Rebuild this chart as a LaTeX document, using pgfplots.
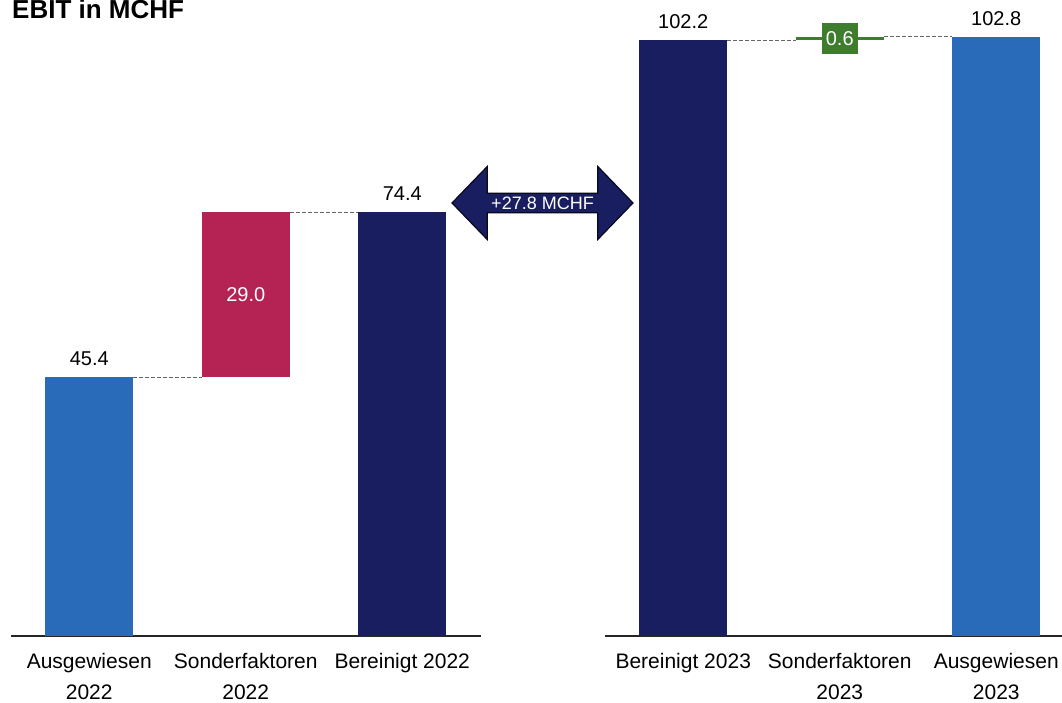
\documentclass[border=0pt]{standalone}
\usepackage{pgfplots}
\pgfplotsset{compat=1.18}
\usepackage{fontspec}
\setmainfont{Liberation Sans}
\usetikzlibrary{shapes.arrows}
\definecolor{navy}{HTML}{181E60}
\definecolor{lblue}{HTML}{2A6BB9}
\definecolor{crim}{HTML}{B52254}
\definecolor{sgreen}{HTML}{3E7C2E}
\pgfplotsset{
  wf/.style={
    ybar stacked, bar width=88pt,
    scale only axis, width=469.5pt, height=616pt,
    xmin=-0.5, xmax=2.5, ymin=0,
    enlargelimits=false, clip=false,
    axis x line*=bottom, axis y line=none,
    axis line style={line width=1.5pt, black!85},
    xtick={0,1,2}, major tick length=0pt, ytick=\empty,
    xticklabel style={font=\fontsize{21}{31}\selectfont, align=center,
      anchor=north, inner sep=0pt, yshift=-17pt},
    every axis plot/.append style={draw=none},
  },
}
\tikzset{
  vlab/.style={anchor=south, inner sep=0pt, yshift=11pt, font=\fontsize{20}{24}\selectfont},
  conn/.style={black!60, line width=1pt, dash pattern=on 4pt off 2pt},
}
\begin{document}
\begin{tikzpicture}
\useasboundingbox (0pt,0pt) rectangle (1062pt,703pt);

% left waterfall 2022
\begin{axis}[wf, at={(11pt,67pt)}, anchor=south west, ymax=108.1,
    xticklabels={{Ausgewiesen\\2022},{Sonderfaktoren\\2022},{Bereinigt 2022}}]
\addplot[fill=none] coordinates {(0,0) (1,45.4) (2,0)};
\addplot[fill=lblue] coordinates {(0,45.4) (1,0) (2,0)};
\addplot[fill=crim] coordinates {(0,0) (1,29.0) (2,0)};
\addplot[fill=navy] coordinates {(0,0) (1,0) (2,74.4)};
\coordinate (La1) at (axis cs:0.281,45.4);
\coordinate (La2) at (axis cs:0.719,45.4);
\coordinate (Lb1) at (axis cs:1.281,74.4);
\coordinate (Lb2) at (axis cs:1.719,74.4);
\coordinate (Lv0) at (axis cs:0,45.4);
\coordinate (Lv1) at (axis cs:1,59.9);
\coordinate (Lv2) at (axis cs:2,74.4);
\end{axis}
\draw[conn] (La1) -- (La2);
\draw[conn] (Lb1) -- (Lb2);
\node[vlab] at (Lv0) {45.4};
\node[vlab] at (Lv2) {74.4};
\node[text=white, font=\fontsize{20}{24}\selectfont] at (Lv1) {29.0};

% right waterfall 2023
\begin{axis}[wf, at={(605pt,67pt)}, anchor=south west, ymax=105.66,
    xticklabels={{Bereinigt 2023},{Sonderfaktoren\\2023},{Ausgewiesen\\2023}}]
\addplot[fill=none] coordinates {(0,0) (1,102.2) (2,0)};
\addplot[fill=navy] coordinates {(0,102.2) (1,0) (2,0)};
\addplot[fill=sgreen] coordinates {(0,0) (1,0.6) (2,0)};
\addplot[fill=lblue] coordinates {(0,0) (1,0) (2,102.8)};
\coordinate (Ra1) at (axis cs:0.281,102.2);
\coordinate (Ra2) at (axis cs:0.719,102.2);
\coordinate (Rb1) at (axis cs:1.281,102.8);
\coordinate (Rb2) at (axis cs:1.719,102.8);
\coordinate (Rv0) at (axis cs:0,102.2);
\coordinate (Rv1) at (axis cs:1,102.5);
\coordinate (Rv2) at (axis cs:2,102.8);
\end{axis}
\draw[conn] (Ra1) -- (Ra2);
\draw[conn] (Rb1) -- (Rb2);
\node[vlab] at (Rv0) {102.2};
\node[vlab] at (Rv2) {102.8};
\node[fill=sgreen, text=white, font=\fontsize{20}{24}\selectfont,
  minimum width=36pt, minimum height=31pt, inner sep=0pt] at (Rv1) {0.6};

% difference arrow
\node[double arrow, fill=navy, draw=black!70!navy, line width=1.2pt,
  minimum height=181pt, minimum width=73pt, double arrow head extend=19pt,
  double arrow tip angle=92, inner sep=0pt, text=white,
  font=\fontsize{18}{20}\selectfont] at (542.5pt,500pt) {+27.8 MCHF};

% title
\node[anchor=base west, inner sep=0pt, font=\fontsize{26}{30}\selectfont\bfseries]
  at (12pt,684pt) {EBIT in MCHF};
\end{tikzpicture}
\end{document}
